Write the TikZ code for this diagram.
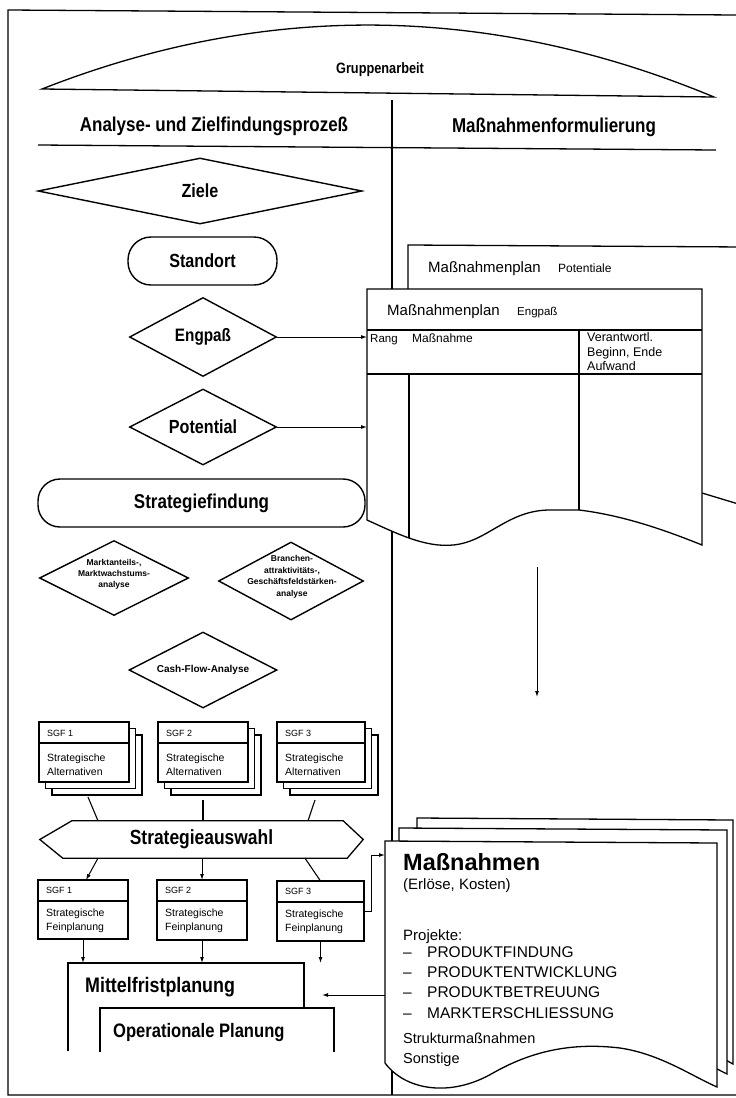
\documentclass[tikz,border=0pt]{standalone}
\usepackage{fontspec}
\setmainfont{Liberation Sans}
\newfontfamily\cf[FakeStretch=0.85]{Liberation Sans}
\usetikzlibrary{shapes.geometric,arrows.meta,calc}
\newcommand\cfs[1]{\cf\bfseries\fontsize{#1}{#1}\selectfont}
\newcommand\rfs[1]{\fontsize{#1}{#1}\selectfont}
\begin{document}
\begin{tikzpicture}[x=1pt,y=-1pt,
  ln/.style={line width=1.3pt},
  thn/.style={line width=1.1pt},
  arr/.style={line width=1pt,-{Latex[length=6pt,width=4pt]}},
  diam/.style={draw,diamond,aspect=2,inner sep=0pt,line width=1.4pt},
  rbox/.style={draw,rectangle,rounded corners=23pt,inner sep=0pt,line width=1.4pt},
  blank/.style={anchor=north west,inner sep=0pt,outer sep=0pt},
  txt/.style={anchor=base west,inner sep=0pt}
]
\fill[white] (0,0) rectangle (736,1098);
\clip (0,0) rectangle (736,1098);

% frame
\draw[ln] (736,15) -- (8,10) -- (8,1095) -- (736,1095);

% Gruppenarbeit
\draw[ln] (42,89) .. controls (266,1) and (490,4) .. (714,97) -- cycle;
\node[font=\cfs{15}] (grp) at (380,70) {Gruppenarbeit};

% headers
\node[font=\cfs{20}] (h1) at (214,126) {Analyse- und Zielfindungsprozeß};
\node[font=\cfs{20}] (h2) at (554,127) {Maßnahmenformulierung};
\draw[ln] (38,145) -- (716,150);
\draw[ln] (392,100) -- (392,1095);

% back plan (Potentiale)
\fill[white] (408,245) -- (745,247) -- (745,506) -- (702,493) -- (408,493) -- cycle;
\draw[ln] (408,300) -- (408,245) -- (745,247);
\draw[ln] (702,493) -- (745,506);
\node[txt,font=\rfs{15}] (bp1) at (428,272.5) {Maßnahmenplan};
\node[txt,font=\rfs{12}] (bp2) at (558,272.5) {Potentiale};

% front plan (Engpass)
\node[blank,minimum width=335pt,minimum height=256pt] (plan) at (367,289) {};
\draw[ln,fill=white] (367,520) -- (plan.north west) -- (plan.north east) -- (plan.south east)
  .. controls (660,528) and (620,515) .. (579,510) -- (550,510)
  .. controls (510,510) and (490,538) .. (460,544)
  .. controls (430,550) and (400,535) .. cycle;
\draw[thn] (367,330) -- (702,330);
\draw[thn] (367,374) -- (702,374);
\draw[thn] (409,374) -- (409,538);
\draw[thn] (579,330) -- (579,510);
\node[txt,font=\rfs{15}] (fp-t1) at (387,315.5) {Maßnahmenplan};
\node[txt,font=\rfs{11.5}] (fp-t2) at (517,315.5) {Engpaß};
\node[txt,font=\rfs{11.5}] (fp-t3) at (370,342) {Rang};
\node[txt,font=\rfs{12}] (fp-t4) at (412,342) {Maßnahme};
\node[anchor=north west,inner sep=0pt,align=left,font=\fontsize{12.5}{14.5}\selectfont] (fp-t5) at (587,332.5) {Verantwortl.\\Beginn, Ende\\Aufwand};

% down arrow
\coordinate (dn1) at (537,567);
\coordinate (dn2) at (537,697);
\draw[arr] (dn1) -- (dn2);

% left column
\node[diam,minimum width=324pt,minimum height=66pt,font=\cfs{19}] (ziele) at (200,191) {Ziele};
\node[rbox,minimum width=149pt,minimum height=48pt,font=\cfs{19}] (standort) at (202.5,261) {Standort};
\node[diam,minimum width=147pt,minimum height=79pt,font=\cfs{18}] (eng) at (203,337) {Engpaß};
\node[diam,minimum width=147pt,minimum height=76pt,font=\cfs{19}] (pot) at (203,427) {Potential};
\draw[arr] (eng.east) -- (eng.east -| plan.west);
\draw[arr] (pot.east) -- (pot.east -| plan.west);

\node[rbox,rounded corners=22pt,minimum width=327pt,minimum height=48pt,font=\cfs{20}] (sf) at (201.5,503) {Strategiefindung};

\node[diam,minimum width=149pt,minimum height=75pt] (mark) at (114,578) {};
\node[inner sep=0pt,align=center,font=\bfseries\fontsize{8.5}{11}\selectfont] (markt) at (114,574) {Marktanteils-,\\Marktwachstums-\\analyse};
\node[diam,minimum width=145pt,minimum height=78pt] (bran) at (291,581) {};
\node[inner sep=0pt,align=center,font=\bfseries\fontsize{8.5}{11.5}\selectfont] (brant) at (292,577) {Branchen-\\attraktivitäts-,\\Geschäftsfeldstärken-\\analyse};

\node[diam,minimum width=148pt,minimum height=76pt,font=\bfseries\rfs{10}] (cf) at (203,670) {Cash-Flow-Analyse};

% SGF stacks
\node[blank,minimum width=90pt,minimum height=60pt] (s1) at (39,722) {};
\node[blank,minimum width=90pt,minimum height=60pt] (s2) at (158,722) {};
\node[blank,minimum width=88pt,minimum height=60pt] (s3) at (277,722) {};
\foreach \s/\n in {s1/1,s2/2,s3/3}{
  \draw[thn,fill=white] ([shift={(13,13)}]\s.north west) rectangle ([shift={(13,13)}]\s.south east);
  \draw[thn,fill=white] ([shift={(6.5,6.5)}]\s.north west) rectangle ([shift={(6.5,6.5)}]\s.south east);
  \draw[ln,fill=white] (\s.north west) rectangle (\s.south east);
  \draw[thn] ([yshift=-21pt]\s.north west) -- ([yshift=-21pt]\s.north east);
  \node[txt,font=\rfs{9}] (\s-a) at ($(\s.north west)+(8,14)$) {SGF \n};
  \node[txt,font=\rfs{10.5}] (\s-b) at ($(\s.north west)+(8,39)$) {Strategische};
  \node[txt,font=\rfs{10.5}] (\s-c) at ($(\s.north west)+(8,53)$) {Alternativen};
}

% Strategieauswahl
\node[minimum width=323pt,minimum height=37pt,inner sep=0pt,font=\cfs{20.5}] (sa) at (201.5,839.5) {Strategieauswahl};
\draw[ln] (sa.west) -- ([xshift=32pt]sa.north west) -- ([xshift=-20pt]sa.north east) -- (sa.east)
  -- ([xshift=-16pt]sa.south east) -- ([xshift=23pt]sa.south west) -- cycle;
\draw[thn] ([shift={(4,15)}]s1.south) -- ([xshift=-103.5pt]sa.north);
\draw[thn] ([shift={(0,18)}]s2.south) -- (sa.north -| s2.south);
\draw[thn] ([shift={(-6,18)}]s3.south) -- ([xshift=106.5pt]sa.north);

% Feinplanung boxes
\node[blank,minimum width=90pt,minimum height=59pt] (f1) at (38,880) {};
\node[blank,minimum width=90pt,minimum height=60pt] (f2) at (157,880) {};
\node[blank,minimum width=87pt,minimum height=60pt] (f3) at (277,881) {};
\foreach \s/\n in {f1/1,f2/2,f3/3}{
  \draw[ln,fill=white] (\s.north west) rectangle (\s.south east);
  \draw[thn] ([yshift=-21pt]\s.north west) -- ([yshift=-21pt]\s.north east);
  \node[txt,font=\rfs{9}] (\s-a) at ($(\s.north west)+(8,13)$) {SGF \n};
  \node[txt,font=\rfs{10.5}] (\s-b) at ($(\s.north west)+(8,36)$) {Strategische};
  \node[txt,font=\rfs{10.5}] (\s-c) at ($(\s.north west)+(8,50)$) {Feinplanung};
}
\draw[arr] ([xshift=-103.5pt]sa.south) -- ([xshift=3pt]f1.north);
\draw[arr] (sa.south -| f2.north) -- (f2.north);
\draw[thn] ([xshift=103.5pt]sa.south) -- (f3.north);

% Mittelfristplanung / Operationale Planung
\node[blank,minimum width=236pt,minimum height=88pt] (mfp) at (68,963) {};
\draw[ln] (mfp.south west) -- (mfp.north west) -- (mfp.north east) -- ++(0,45);
\node[anchor=west,inner sep=0pt,font=\cfs{21}] (mfpt) at (85,987) {Mittelfristplanung};
\node[blank,minimum width=234pt,minimum height=44pt] (op) at (100,1008) {};
\draw[ln] (op.south west) -- (op.north west) -- (op.north east) -- (op.south east);
\node[anchor=west,inner sep=0pt,font=\cfs{19.5}] (opt) at (113,1032) {Operationale Planung};
\draw[arr] (f1.south) -- (f1.south |- mfp.north);
\draw[arr] (f2.south) -- (f2.south |- mfp.north);
\draw[arr] (f3.south) -- ([yshift=-22pt]f3.south);

% Massnahmen document stack
\draw[ln,fill=white] (417,1040) -- (417,818) -- (733,820) -- (733,1064)
  .. controls (710,1052) and (692,1031) .. (652,1025)
  .. controls (602,1019) and (562,1029) .. (525,1050)
  .. controls (482,1075) and (437,1067) .. cycle;
\draw[ln,fill=white] (399,1050) -- (399,828) -- (727,830) -- (727,1074)
  .. controls (702,1062) and (674,1041) .. (634,1035)
  .. controls (584,1029) and (544,1039) .. (507,1060)
  .. controls (464,1085) and (419,1077) .. cycle;
\node[blank,minimum width=332pt,minimum height=246pt] (doc) at (385,841) {};
\draw[ln,fill=white] (385,1063) -- (doc.north west) -- (717,843) -- (717,1087)
  .. controls (690,1075) and (660,1054) .. (620,1048)
  .. controls (570,1042) and (530,1052) .. (493,1073)
  .. controls (450,1098) and (405,1090) .. cycle;
\node[txt,font=\bfseries\rfs{23.5}] (d1) at (403,870) {Maßnahmen};
\node[txt,font=\rfs{15}] (d2) at (403,889) {(Erlöse, Kosten)};
\node[txt,font=\rfs{15}] (d3) at (403,940) {Projekte:};
\node[txt,font=\rfs{15.5}] (d4a) at (403,957.5) {–};
\node[txt,font=\rfs{15.5}] (d4) at (427,957.5) {PRODUKTFINDUNG};
\node[txt,font=\rfs{15.5}] (d5a) at (403,977.5) {–};
\node[txt,font=\rfs{15.5}] (d5) at (427,977.5) {PRODUKTENTWICKLUNG};
\node[txt,font=\rfs{15.5}] (d6a) at (403,997.5) {–};
\node[txt,font=\rfs{15.5}] (d6) at (427,997.5) {PRODUKTBETREUUNG};
\node[txt,font=\rfs{15.5}] (d7a) at (403,1018.5) {–};
\node[txt,font=\rfs{15.5}] (d7) at (427,1018.5) {MARKTERSCHLIESSUNG};
\node[txt,font=\rfs{14.5}] (d8) at (403,1043) {Strukturmaßnahmen};
\node[txt,font=\rfs{14.5}] (d9) at (403,1063) {Sonstige};

% connectors to/from document
\draw[arr] (f3.east) -- ++(7,0) |- ([yshift=-14pt]doc.north west);
\coordinate (mend) at (322,995);
\draw[arr] (doc.west |- mend) -- (mend);
\end{tikzpicture}
\end{document}
